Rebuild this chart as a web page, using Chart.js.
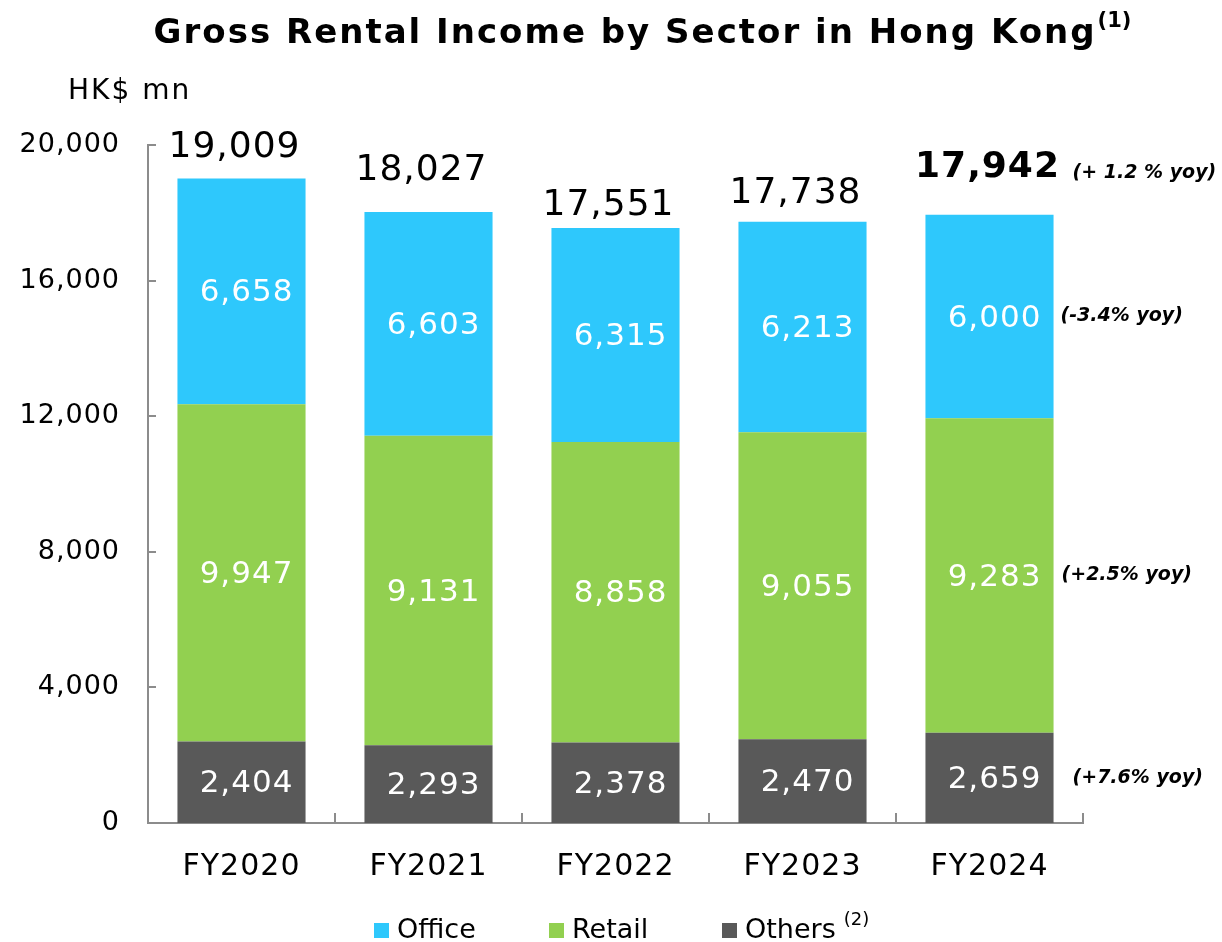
<!DOCTYPE html>
<html>
<head>
<meta charset="utf-8">
<script src="https://cdn.jsdelivr.net/npm/chart.js@4/dist/chart.umd.min.js"></script>
<style>
  html, body { margin: 0; padding: 0; background: #fff; }
  #wrap { width: 1222px; height: 942px; }
</style>
</head>
<body>
<div id="wrap"><canvas id="rentChart" width="1222" height="942"></canvas></div>
<script>
// data
const years = ["FY2020", "FY2021", "FY2022", "FY2023", "FY2024"];
const office = [6658, 6603, 6315, 6213, 6000];
const retail = [9947, 9131, 8858, 9055, 9283];
const others = [2404, 2293, 2378, 2470, 2659];
const totals = [19009, 18027, 17551, 17738, 17942];
const yTicks = [0, 4000, 8000, 12000, 16000, 20000];
// yoy notes for the latest year: total, office, retail, others
const yoyTotal = "(+ 1.2 % yoy)";
const yoyOffice = "(-3.4% yoy)";
const yoyRetail = "(+2.5% yoy)";
const yoyOthers = "(+7.6% yoy)";

// how far each total label sits above its bar (px)
const totalLift = [31, 41, 22, 28, 47];

const FONT = "'DejaVu Sans', Verdana, sans-serif";
const AXIS = "#8c8c8c";

function fmt(v) {
    return v.toLocaleString("en-US");
}

const drawExtras = {
    id: "drawExtras",
    beforeDraw(chart) {
        // the source font is a wide Verdana, so open the letters a bit
        chart.ctx.letterSpacing = "1px";
    },
    afterDatasetsDraw(chart) {
        const ctx = chart.ctx;
        const area = chart.chartArea;
        const xs = chart.scales.x;
        const ys = chart.scales.y;
        ctx.save();

        // inward tick marks on both axes
        ctx.strokeStyle = AXIS;
        ctx.lineWidth = 2;
        yTicks.forEach(v => {
            const y = Math.round(ys.getPixelForValue(v));
            ctx.beginPath();
            ctx.moveTo(area.left, y);
            ctx.lineTo(area.left + 8, y);
            ctx.stroke();
        });
        for (let i = 0; i <= years.length; i++) {
            const x = Math.round(xs.getPixelForValue(i - 0.5));
            ctx.beginPath();
            ctx.moveTo(x, area.bottom);
            ctx.lineTo(x, area.bottom - 10);
            ctx.stroke();
        }

        // values inside the segments
        ctx.fillStyle = "#fff";
        ctx.textAlign = "center";
        ctx.textBaseline = "middle";
        ctx.letterSpacing = "1px";
        ctx.font = "31px " + FONT;
        chart.data.datasets.forEach((ds, di) => {
            const meta = chart.getDatasetMeta(di);
            meta.data.forEach((bar, i) => {
                ctx.fillText(fmt(ds.data[i]), bar.x + 5, (bar.y + bar.base) / 2 + 2);
            });
        });

        // totals above the bars
        const topMeta = chart.getDatasetMeta(2);
        ctx.fillStyle = "#000";
        topMeta.data.forEach((bar, i) => {
            const last = i === years.length - 1;
            ctx.font = (last ? "bold " : "") + "36px " + FONT;
            ctx.fillText(fmt(totals[i]), bar.x - (last ? 2 : 7), bar.y - totalLift[i]);
        });

        // yoy notes next to the last bar
        const li = years.length - 1;
        const lastTop = topMeta.data[li];
        const right = lastTop.x + lastTop.width / 2;
        ctx.textAlign = "left";
        ctx.letterSpacing = "0px";
        ctx.font = "italic bold 19px " + FONT;
        ctx.fillText(yoyTotal, right + 19, lastTop.y - totalLift[li] + 5);
        const segs = [[0, yoyOthers, 19], [1, yoyRetail, 8], [2, yoyOffice, 7]];
        segs.forEach(([di, txt, gap]) => {
            const bar = chart.getDatasetMeta(di).data[li];
            ctx.fillText(txt, right + gap, (bar.y + bar.base) / 2);
        });

        ctx.restore();
    },
    afterDraw(chart) {
        const ctx = chart.ctx;
        ctx.save();
        ctx.fillStyle = "#000";
        ctx.textBaseline = "middle";
        ctx.textAlign = "left";

        // title with superscript
        ctx.letterSpacing = "2px";
        ctx.font = "bold 34px " + FONT;
        const title = "Gross Rental Income by Sector in Hong Kong";
        const tw = ctx.measureText(title).width;
        ctx.letterSpacing = "0px";
        ctx.font = "bold 21px " + FONT;
        const sw = ctx.measureText("(1)").width;
        const tx = 642 - (tw + sw) / 2;
        ctx.letterSpacing = "2px";
        ctx.font = "bold 34px " + FONT;
        ctx.fillText(title, tx, 34);
        ctx.letterSpacing = "0px";
        ctx.font = "bold 21px " + FONT;
        ctx.fillText("(1)", tx + tw + 1, 22);

        // unit label
        ctx.letterSpacing = "2px";
        ctx.font = "28px " + FONT;
        ctx.fillText("HK$ mn", 68, 92);

        // legend
        ctx.letterSpacing = "0px";
        const items = [
            [374, "#2ec8fc", "Office", false],
            [549, "#92d050", "Retail", false],
            [722, "#595959", "Others", true]
        ];
        items.forEach(([x, col, txt, note]) => {
            ctx.fillStyle = col;
            ctx.fillRect(x, 923, 15, 15);
            ctx.fillStyle = "#000";
            ctx.font = "27px " + FONT;
            ctx.fillText(txt, x + 23, 931);
            if (note) {
                const w = ctx.measureText(txt).width;
                ctx.font = "18px " + FONT;
                ctx.fillText("(2)", x + 23 + w + 8, 920);
            }
        });
        ctx.restore();
    }
};

new Chart(document.getElementById("rentChart"), {
    type: "bar",
    data: {
        labels: years,
        datasets: [
            { label: "Others", data: others, backgroundColor: "#595959" },
            { label: "Retail", data: retail, backgroundColor: "#92d050" },
            { label: "Office", data: office, backgroundColor: "#2ec8fc" }
        ]
    },
    options: {
        responsive: false,
        animation: false,
        layout: { padding: { top: 145, right: 139, left: 0, bottom: 0 } },
        datasets: {
            bar: { categoryPercentage: 1, barPercentage: 0.685, borderWidth: 0 }
        },
        plugins: {
            legend: { display: false },
            title: { display: false },
            tooltip: { enabled: false }
        },
        scales: {
            x: {
                stacked: true,
                grid: { display: false, drawTicks: false },
                border: { display: true, color: AXIS, width: 2 },
                ticks: {
                    color: "#000",
                    padding: 26,
                    font: { family: FONT, size: 30 }
                },
                afterFit: s => { s.height = 119; }
            },
            y: {
                stacked: true,
                min: 0,
                max: 20000,
                grid: { display: false, drawTicks: false },
                border: { display: true, color: AXIS, width: 2 },
                afterBuildTicks: s => { s.ticks = yTicks.map(v => ({ value: v })); },
                ticks: {
                    color: "#000",
                    padding: 28,
                    font: { family: FONT, size: 27 },
                    callback: v => fmt(v)
                },
                afterFit: s => { s.width = 148; }
            }
        }
    },
    plugins: [drawExtras]
});
</script>
</body>
</html>
